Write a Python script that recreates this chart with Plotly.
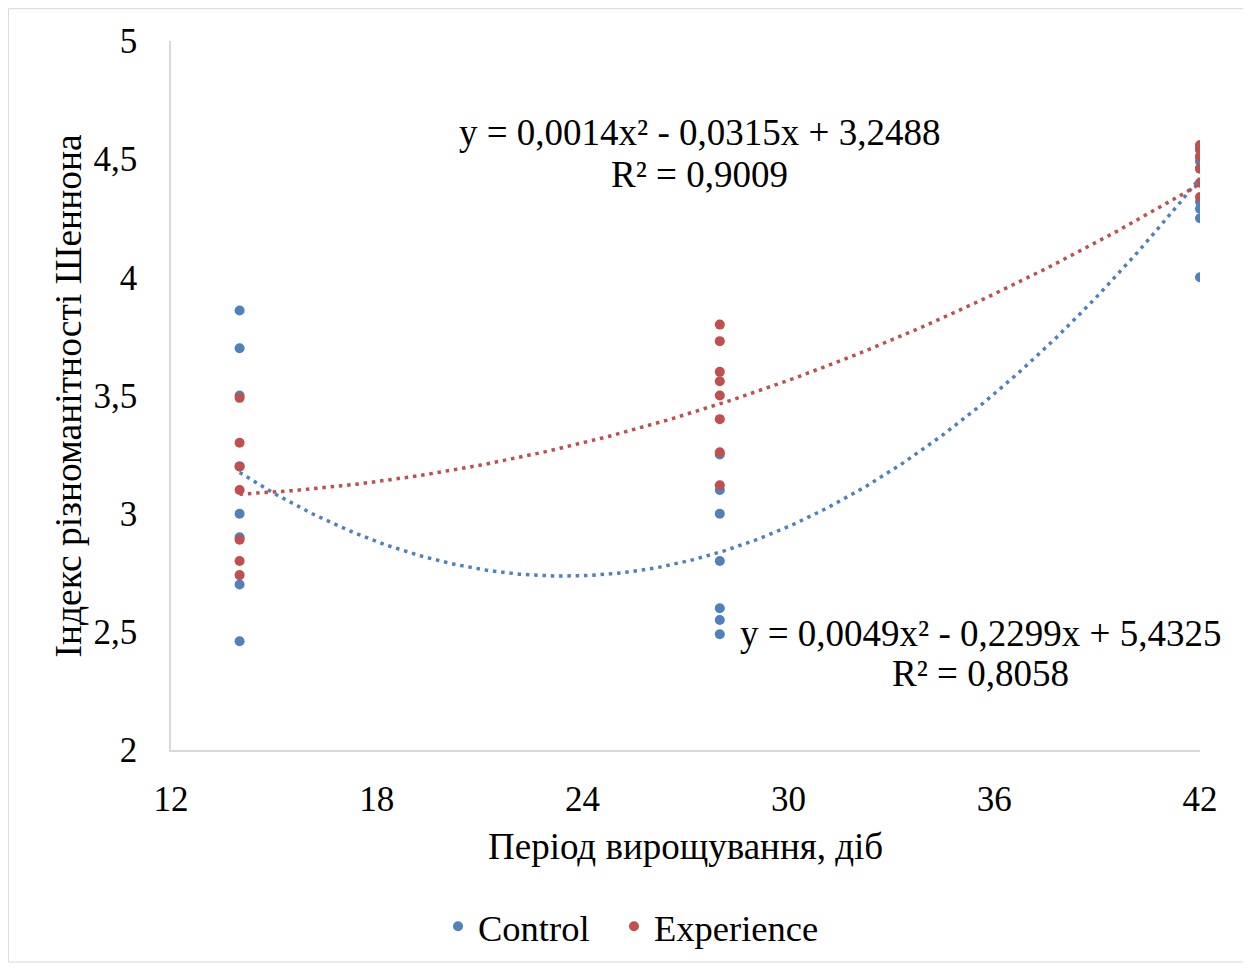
import numpy as np
import plotly.graph_objects as go

# Data
control_days = [14, 14, 14, 14, 14, 14, 14, 14,
                28, 28, 28, 28, 28, 28, 28,
                42, 42, 42, 42, 42, 42, 42, 42]
control_values = [3.86, 3.70, 3.50, 3.20, 3.00, 2.90, 2.70, 2.46,
                  3.25, 3.10, 3.00, 2.80, 2.60, 2.55, 2.49,
                  4.55, 4.51, 4.49, 4.46, 4.32, 4.29, 4.25, 4.00]
experience_days = [14, 14, 14, 14, 14, 14, 14,
                   28, 28, 28, 28, 28, 28, 28, 28,
                   42, 42, 42, 42, 42, 42]
experience_values = [3.49, 3.30, 3.20, 3.10, 2.89, 2.80, 2.74,
                     3.80, 3.73, 3.60, 3.56, 3.50, 3.40, 3.26, 3.12,
                     4.56, 4.54, 4.51, 4.46, 4.40, 4.34]

# Polynomial trendline coefficients (a, b, c) for y = a x^2 + b x + c
control_coef = [0.0049, -0.2299, 5.4325]
experience_coef = [0.0014, -0.0315, 3.2488]
trend_range = [14, 42]

x_ticks = [12, 18, 24, 30, 36, 42]
y_ticks = [2, 2.5, 3, 3.5, 4, 4.5, 5]

BLUE = "#4F81BD"
RED = "#C0504D"
FONT = "Liberation Serif, Times New Roman, serif"

xs = np.linspace(trend_range[0], trend_range[1], 200)

fig = go.Figure()
fig.add_trace(go.Scatter(x=control_days, y=control_values, mode="markers", name="Control",
                         marker=dict(color=BLUE, size=10), legend="legend"))
fig.add_trace(go.Scatter(x=experience_days, y=experience_values, mode="markers", name="Experience",
                         marker=dict(color=RED, size=10), legend="legend2"))
fig.add_trace(go.Scatter(x=xs, y=np.polyval(control_coef, xs), mode="lines", showlegend=False,
                         line=dict(color=BLUE, width=3.5, dash="3.5px,4.8px"), hoverinfo="skip"))
fig.add_trace(go.Scatter(x=xs, y=np.polyval(experience_coef, xs), mode="lines", showlegend=False,
                         line=dict(color=RED, width=3.5, dash="3.5px,4.8px"), hoverinfo="skip"))

ann_font = dict(family=FONT, size=37, color="black")
annotations = [
    dict(text="y = 0,0014x² - 0,0315x + 3,2488", x=0.514, y=0.8708),
    dict(text="R² = 0,9009", x=0.514, y=0.8118),
    dict(text="y = 0,0049x² - 0,2299x + 5,4325", x=0.787, y=0.1643),
    dict(text="R² = 0,8058", x=0.787, y=0.108),
    dict(text="Період вирощування, діб", x=0.5, y=-0.136),
    dict(text="Індекс різноманітності Шеннона", x=-0.100, y=0.5, textangle=-90,
         font=dict(family=FONT, size=37.5, color="black")),
]
for a in annotations:
    a.setdefault("font", ann_font)
    fig.add_annotation(xref="paper", yref="paper", xanchor="center", yanchor="middle",
                       showarrow=False, **a)

fig.add_shape(type="rect", xref="paper", yref="paper", x0=-0.158, x1=1.0466, y0=-0.299, y1=1.0456,
              line=dict(color="#d9d9d9", width=1), fillcolor="rgba(0,0,0,0)", layer="below")

legend_font = dict(family=FONT, size=36.5, color="black")
fig.update_layout(
    width=1243, height=961,
    margin=dict(l=163, r=51, t=33, b=216),
    paper_bgcolor="white", plot_bgcolor="white",
    separators=", ",
    font=dict(family=FONT, size=35, color="black"),
    showlegend=True,
    legend=dict(orientation="h", x=0.2595, xanchor="left", y=-0.249, yanchor="middle",
                font=legend_font, itemwidth=30, bgcolor="rgba(0,0,0,0)"),
    legend2=dict(orientation="h", x=0.4305, xanchor="left", y=-0.249, yanchor="middle",
                 font=legend_font, itemwidth=30, bgcolor="rgba(0,0,0,0)"),
    xaxis=dict(range=[12, 42], tickvals=x_ticks, showgrid=False, zeroline=False,
               showline=True, linecolor="#d9d9d9", linewidth=1.5,
               ticks="outside", ticklen=17, tickcolor="rgba(0,0,0,0)",
               tickfont=dict(family=FONT, size=35, color="black")),
    yaxis=dict(range=[2, 5], tickvals=y_ticks, showgrid=False, zeroline=False,
               showline=True, linecolor="#d9d9d9", linewidth=1.5,
               ticks="outside", ticklen=25, tickcolor="rgba(0,0,0,0)",
               tickfont=dict(family=FONT, size=35, color="black")),
)

fig.write_html("out.html")
